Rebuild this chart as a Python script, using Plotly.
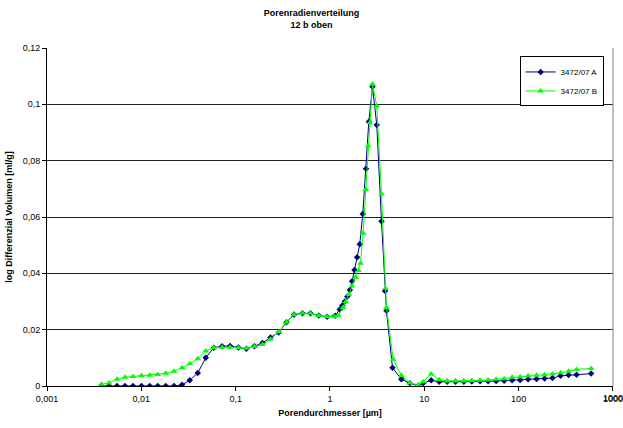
import plotly.graph_objects as go

# Porendurchmesser [µm] und log. differenzielles Volumen [ml/g]
durchmesser_a = [
    0.003775, 0.004545, 0.005526, 0.006717, 0.008166, 0.01003, 0.01228, 0.01493,
    0.01815, 0.02222, 0.02701, 0.03261, 0.03963, 0.04818, 0.05857, 0.07176,
    0.08721, 0.1071, 0.1302, 0.1582, 0.1924, 0.2339, 0.2865, 0.3457, 0.4163,
    0.5110, 0.6212, 0.7607, 0.9315, 1.138, 1.270, 1.350, 1.436, 1.526, 1.622,
    1.716, 1.819, 1.939, 2.070, 2.227, 2.409, 2.579, 2.823, 3.135, 3.517,
    3.840, 3.973, 4.600, 5.716, 7.020, 8.617, 9.734, 11.83, 14.39, 17.49,
    21.42, 26.23, 31.89, 39.06, 47.51, 57.72, 70.20, 85.33, 103.7, 126.1,
    154.8, 188.3, 228.8, 278.2, 338.2, 411.2, 587.3,
]
volumen_a = [
    0.0, 0.0, 0.0, 0.0, 0.0, 0.0, 0.0, 0.0,
    0.0, 0.0, 0.0004, 0.0020, 0.0046, 0.0100, 0.0136, 0.0141,
    0.0142, 0.0137, 0.0132, 0.0141, 0.0153, 0.0172, 0.0190, 0.0226, 0.0254,
    0.0258, 0.0258, 0.0250, 0.0246, 0.0249, 0.0272, 0.0286, 0.0300, 0.0318, 0.0341,
    0.0372, 0.0412, 0.0457, 0.0503, 0.0611, 0.0771, 0.0938, 0.1062, 0.0927, 0.0585,
    0.0337, 0.0267, 0.0065, 0.0024, 0.0010, 0.0001, 0.0010, 0.0020, 0.0015, 0.0015,
    0.0015, 0.0015, 0.0016, 0.0017, 0.0017, 0.0018, 0.0019, 0.0020, 0.0021, 0.0024,
    0.0025, 0.0027, 0.0028, 0.0036, 0.0039, 0.0040, 0.0044,
]

durchmesser_b = [
    0.003775, 0.004545, 0.005526, 0.006717, 0.008166, 0.01003, 0.01228, 0.01493,
    0.01815, 0.02222, 0.02701, 0.03261, 0.03963, 0.04818, 0.05857, 0.07176,
    0.08721, 0.1071, 0.1302, 0.1582, 0.1924, 0.2339, 0.2865, 0.3457, 0.4163,
    0.5110, 0.6212, 0.7607, 0.9315, 1.120, 1.220, 1.377, 1.471, 1.584, 1.716,
    1.864, 1.996, 2.106, 2.244, 2.394, 2.535, 2.642, 2.823, 3.135, 3.517,
    3.877, 3.973, 4.667, 5.716, 7.020, 8.617, 9.734, 11.83, 14.39, 17.49,
    21.42, 26.23, 31.89, 39.06, 47.51, 57.72, 70.20, 85.33, 103.7, 126.1,
    154.8, 188.3, 228.8, 278.2, 338.2, 411.2, 587.3,
]
volumen_b = [
    0.0006, 0.0011, 0.0024, 0.0031, 0.0034, 0.0037, 0.0038, 0.0041,
    0.0045, 0.0052, 0.0065, 0.0079, 0.0097, 0.0124, 0.0136, 0.0138,
    0.0138, 0.0136, 0.0134, 0.0140, 0.0147, 0.0166, 0.0193, 0.0226, 0.0254,
    0.0258, 0.0258, 0.0250, 0.0246, 0.0246, 0.0250, 0.0279, 0.0299, 0.0325, 0.0355,
    0.0386, 0.0410, 0.0436, 0.0542, 0.0698, 0.0853, 0.0935, 0.1072, 0.0994, 0.0682,
    0.0347, 0.0279, 0.0095, 0.0037, 0.0011, 0.0004, 0.0015, 0.0043, 0.0022, 0.0018,
    0.0018, 0.0018, 0.0019, 0.0020, 0.0021, 0.0024, 0.0026, 0.0031, 0.0033, 0.0036,
    0.0038, 0.0040, 0.0043, 0.0047, 0.0052, 0.0059, 0.0062,
]

x_tickwerte = [0.001, 0.01, 0.1, 1, 10, 100, 1000]
x_ticktexte = ["0,001", "0,01", "0,1", "1", "10", "100", "1000"]

FONT = "Liberation Sans, Arial, sans-serif"

fig = go.Figure()
fig.add_trace(go.Scatter(
    x=durchmesser_a, y=volumen_a, mode="lines+markers", name="3472/07 A",
    line=dict(color="#000080", width=1),
    marker=dict(symbol="diamond", size=5, color="#000080"),
))
fig.add_trace(go.Scatter(
    x=durchmesser_b, y=volumen_b, mode="lines+markers", name="3472/07 B",
    line=dict(color="#00FF00", width=1),
    marker=dict(symbol="triangle-up", size=6, color="#00FF00"),
))

fig.update_layout(
    width=623, height=428,
    margin=dict(l=47, r=10, t=48, b=42),
    paper_bgcolor="white", plot_bgcolor="white",
    separators=",.",
    font=dict(family=FONT, size=9, color="black"),
    title=dict(
        text="<b>Porenradienverteilung<br>12 b oben</b>",
        x=0.5, xanchor="center", y=0.962, yanchor="top",
        font=dict(family=FONT, size=9, color="black"),
    ),
    showlegend=True,
    legend=dict(
        x=0.835, y=0.975, xanchor="left", yanchor="top",
        bgcolor="white", bordercolor="black", borderwidth=1,
        font=dict(family=FONT, size=8, color="black"),
        itemwidth=30, tracegroupgap=4,
    ),
    xaxis=dict(
        type="log", range=[-3, 3.0005], automargin=False,
        tickvals=x_tickwerte, ticktext=x_ticktexte,
        ticks="outside", ticklen=4, tickcolor="black",
        showline=True, linecolor="black", linewidth=1,
        showgrid=False, zeroline=False,
        tickfont=dict(family=FONT, size=9, color="black"),
        title=dict(text="<b>Porendurchmesser [µm]</b>", standoff=6,
                   font=dict(family=FONT, size=9, color="black")),
    ),
    yaxis=dict(
        range=[0, 0.12], dtick=0.02, tick0=0, automargin=False,
        ticks="outside", ticklen=4, tickcolor="black",
        showline=True, linecolor="black", linewidth=1,
        showgrid=True, gridcolor="#222222", gridwidth=1,
        zeroline=False,
        tickfont=dict(family=FONT, size=9, color="black"),
        title=dict(text="<b>log Differenzial Volumen [ml/g]</b>", standoff=8,
                   font=dict(family=FONT, size=9, color="black")),
    ),
    shapes=[
        dict(type="line", xref="paper", yref="paper", x0=1, x1=1, y0=0, y1=1,
             line=dict(color="#808080", width=1)),
    ],
)

# Die letzte Dekadenbeschriftung ragt über den Rand und wird von Plotly
# ausgeblendet; sie wird daher als Annotation an der Achse gesetzt.
fig.add_annotation(
    x=3, xref="x", y=0, yref="paper", yanchor="top", xanchor="center",
    yshift=-5, text=x_ticktexte[-1], showarrow=False,
    font=dict(family=FONT, size=9, color="black"),
)

fig.write_html("out.html")
